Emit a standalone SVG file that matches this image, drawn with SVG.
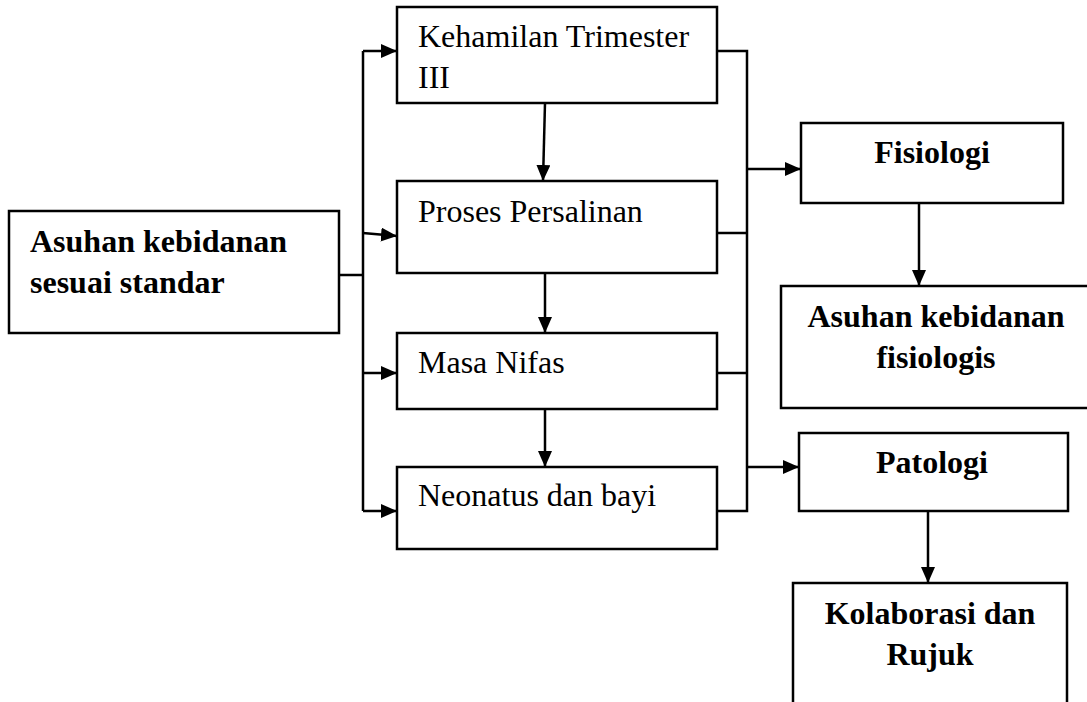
<svg xmlns="http://www.w3.org/2000/svg" width="1087" height="702" viewBox="0 0 1087 702">
<defs>
<style>
.box{fill:#fff;stroke:#000;stroke-width:2.5}
.reg{font-family:"Liberation Serif","Times New Roman",serif;font-size:32px;fill:#000}
.bold{font-family:"Liberation Serif","Times New Roman",serif;font-size:32px;font-weight:bold;fill:#000}
.ln{fill:none;stroke:#000;stroke-width:2.5}
</style>
<marker id="ah" markerWidth="16" markerHeight="14" refX="16" refY="7" orient="auto" markerUnits="userSpaceOnUse">
<path d="M0,0 L16,7 L0,14 Z" fill="#000"/>
</marker>
</defs>
<rect width="1087" height="702" fill="#fff"/>
<g id="connectors">
<path class="ln" d="M339,275 H363"/>
<path class="ln" d="M363,51 V511"/>
<path class="ln" d="M363,51 H397" marker-end="url(#ah)"/>
<path class="ln" d="M363,233 L397,236" marker-end="url(#ah)"/>
<path class="ln" d="M363,373 H397" marker-end="url(#ah)"/>
<path class="ln" d="M363,511 H397" marker-end="url(#ah)"/>
<path class="ln" d="M545,103 L543,181" marker-end="url(#ah)"/>
<path class="ln" d="M545,273 V333" marker-end="url(#ah)"/>
<path class="ln" d="M545,409 V467" marker-end="url(#ah)"/>
<path class="ln" d="M717,51 H747 V511 H717"/>
<path class="ln" d="M717,233 H747"/>
<path class="ln" d="M717,373 H747"/>
<path class="ln" d="M747,169 H801" marker-end="url(#ah)"/>
<path class="ln" d="M747,467 H799" marker-end="url(#ah)"/>
<path class="ln" d="M919,203 V286" marker-end="url(#ah)"/>
<path class="ln" d="M928,511 V583" marker-end="url(#ah)"/>
</g>
<g id="n-asuhan">
<rect class="box" x="9" y="211" width="330" height="122"/>
<text class="bold" x="30" y="252">Asuhan kebidanan</text>
<text class="bold" x="30" y="293">sesuai standar</text>
</g>
<g id="n-kehamilan">
<rect class="box" x="397" y="7" width="320" height="96"/>
<text class="reg" x="418" y="47">Kehamilan Trimester</text>
<text class="reg" x="418" y="88">III</text>
</g>
<g id="n-proses">
<rect class="box" x="397" y="181" width="320" height="92"/>
<text class="reg" x="418" y="222">Proses Persalinan</text>
</g>
<g id="n-nifas">
<rect class="box" x="397" y="333" width="320" height="76"/>
<text class="reg" x="418" y="373">Masa Nifas</text>
</g>
<g id="n-neonatus">
<rect class="box" x="397" y="467" width="320" height="82"/>
<text class="reg" x="418" y="506">Neonatus dan bayi</text>
</g>
<g id="n-fisiologi">
<rect class="box" x="801" y="123" width="262" height="80"/>
<text class="bold" x="932" y="163" text-anchor="middle">Fisiologi</text>
</g>
<g id="n-asuhan-fisiologis">
<rect class="box" x="781" y="286" width="320" height="122"/>
<text class="bold" x="936" y="327" text-anchor="middle">Asuhan kebidanan</text>
<text class="bold" x="936" y="368" text-anchor="middle">fisiologis</text>
</g>
<g id="n-patologi">
<rect class="box" x="799" y="433" width="269" height="78"/>
<text class="bold" x="932" y="473" text-anchor="middle">Patologi</text>
</g>
<g id="n-kolaborasi">
<rect class="box" x="793" y="583" width="274" height="140"/>
<text class="bold" x="930" y="624" text-anchor="middle">Kolaborasi dan</text>
<text class="bold" x="930" y="665" text-anchor="middle">Rujuk</text>
</g>
</svg>
